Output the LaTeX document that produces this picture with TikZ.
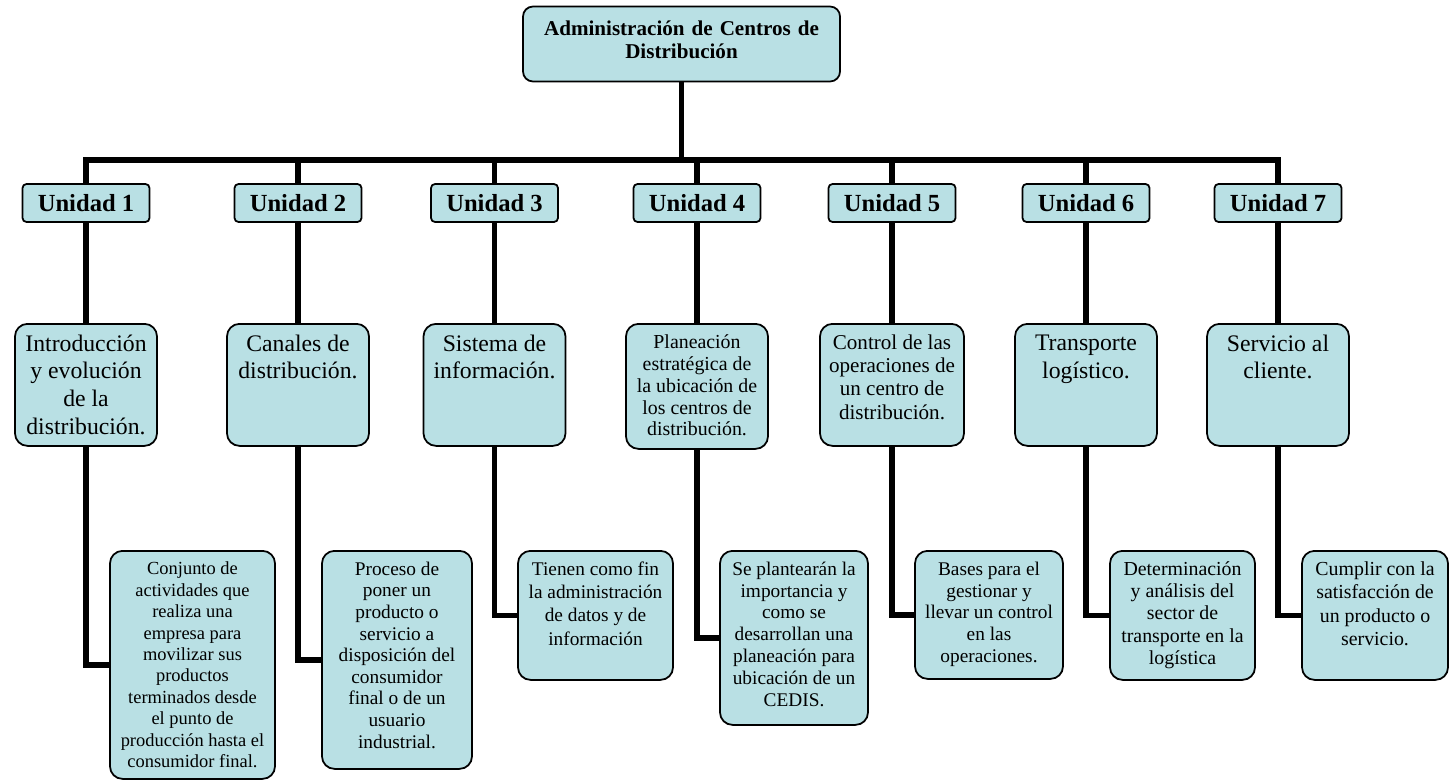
\documentclass[tikz,border=0pt]{standalone}
\usepackage{fontspec}
\setmainfont{Liberation Serif}
\usetikzlibrary{positioning}
\definecolor{boxblue}{RGB}{185,224,228}
% top-aligned text inside a box of given outer size
\newcommand{\boxtext}[3]{\parbox[c][\dimexpr#2-0.44cm\relax][t]{\dimexpr#1-0.16cm\relax}{\centering #3}}

\begin{document}
\begin{tikzpicture}[
        base/.style={draw, fill=boxblue, line width=1pt},
        titlebox/.style={base, rounded corners=0.2cm, align=center, text width=6.1cm, text depth=0.63cm, minimum width=6.34cm, minimum height=1.5cm, font=\bfseries\fontsize{12}{13.2}\selectfont},
        unitbox/.style={base, rounded corners=0.08cm, minimum width=2.54cm, minimum height=0.76cm, inner sep=0pt, font=\bfseries\fontsize{14}{16}\selectfont},
        topic/.style={base, rounded corners=0.25cm, inner xsep=0.08cm, inner ysep=0.22cm, anchor=north, font=\fontsize{13.5}{15.7}\selectfont},
        desc/.style={base, rounded corners=0.25cm, inner xsep=0.08cm, inner ysep=0.22cm, anchor=north, font=\fontsize{11}{13.2}\selectfont},
        conn/.style={line width=3pt}
        ]
        \useasboundingbox (0,0) rectangle (29.08,-15.62);

        % --- Column and row positions ---
        \def\xa{1.72}  \def\xb{5.96}  \def\xc{9.89}  \def\xd{13.94}
        \def\xe{17.84} \def\xf{21.72} \def\xg{25.56}
        \def\yu{-4.06}  % unit row
        \def\yt{-6.46}  % topic row (top edge)
        \def\yd{-11.0}  % description row (top edge)

        % Title
        \node[titlebox] (title) at (13.63,-0.88) {Administración de Centros de\\Distribución};
        \coordinate (bus) at (13.63,-3.2);

        % Units
        \node[unitbox] (u1) at (\xa,\yu) {Unidad 1};
        \node[unitbox] (u2) at (\xb,\yu) {Unidad 2};
        \node[unitbox] (u3) at (\xc,\yu) {Unidad 3};
        \node[unitbox] (u4) at (\xd,\yu) {Unidad 4};
        \node[unitbox] (u5) at (\xe,\yu) {Unidad 5};
        \node[unitbox] (u6) at (\xf,\yu) {Unidad 6};
        \node[unitbox] (u7) at (\xg,\yu) {Unidad 7};

        % Topics
        \node[topic] (t1) at (\xa,\yt) {\boxtext{2.84cm}{2.44cm}{Introducción\\y evolución\\de la\\distribución.}};
        \node[topic] (t2) at (\xb,\yt) {\boxtext{2.84cm}{2.44cm}{Canales de\\distribución.}};
        \node[topic] (t3) at (\xc,\yt) {\boxtext{2.84cm}{2.44cm}{Sistema de\\información.}};
        \node[topic, font=\fontsize{11.3}{12.4}\selectfont] (t4) at (\xd,\yt) {\boxtext{2.84cm}{2.5cm}{Planeación\\estratégica de\\la ubicación de\\los centros de\\distribución.}};
        \node[topic, font=\fontsize{12}{13.2}\selectfont] (t5) at (\xe,\yt) {\boxtext{2.88cm}{2.44cm}{Control de las\\operaciones de\\un centro de\\distribución.}};
        \node[topic] (t6) at (\xf,\yt) {\boxtext{2.84cm}{2.44cm}{Transporte\\logístico.}};
        \node[topic] (t7) at (\xg,\yt) {\boxtext{2.84cm}{2.44cm}{Servicio al\\cliente.}};

        % Descriptions
        \node[desc, font=\fontsize{10.5}{12.2}\selectfont] (d1) at (3.85,\yd) {\boxtext{3.3cm}{4.56cm}{Conjunto de\\actividades que\\realiza una\\empresa para\\movilizar sus\\productos\\terminados desde\\el punto de\\producción hasta el\\consumidor final.}};
        \node[desc, font=\fontsize{11}{12.3}\selectfont] (d2) at (7.94,\yd) {\boxtext{3.0cm}{4.36cm}{Proceso de\\poner un\\producto o\\servicio a\\disposición del\\consumidor\\final o de un\\usuario\\industrial.}};
        \node[desc] (d3) at (11.91,\yd) {\boxtext{3.1cm}{2.58cm}{Tienen como fin\\la administración\\de datos y de\\información}};
        \node[desc, font=\fontsize{11}{12.4}\selectfont] (d4) at (15.88,\yd) {\boxtext{2.96cm}{3.48cm}{Se plantearán la\\importancia y\\como se\\desarrollan una\\planeación para\\ubicación de un\\CEDIS.}};
        \node[desc, font=\fontsize{11}{12.4}\selectfont] (d5) at (19.78,\yd) {\boxtext{2.96cm}{2.56cm}{Bases para el\\gestionar y\\llevar un control\\en las\\operaciones.}};
        \node[desc, font=\fontsize{11.3}{12.6}\selectfont] (d6) at (23.65,\yd) {\boxtext{2.9cm}{2.58cm}{Determinación\\y análisis del\\sector de\\transporte en la\\logística}};
        \node[desc, font=\fontsize{11.3}{13.2}\selectfont] (d7) at (27.5,\yd) {\boxtext{2.92cm}{2.58cm}{Cumplir con la\\satisfacción de\\un producto o\\servicio.}};

        % Connectors
        \draw[conn] (title) -- (bus);
        \draw[conn] (u1) |- (bus) -| (u7);
        \draw[conn] (u2) -- (u2 |- bus);
        \draw[conn] (u3) -- (u3 |- bus);
        \draw[conn] (u4) -- (u4 |- bus);
        \draw[conn] (u5) -- (u5 |- bus);
        \draw[conn] (u6) -- (u6 |- bus);

        \draw[conn] (u1) -- (t1);
        \draw[conn] (u2) -- (t2);
        \draw[conn] (u3) -- (t3);
        \draw[conn] (u4) -- (t4);
        \draw[conn] (u5) -- (t5);
        \draw[conn] (u6) -- (t6);
        \draw[conn] (u7) -- (t7);

        \draw[conn] (t1) |- (d1);
        \draw[conn] (t2) |- (d2);
        \draw[conn] (t3) |- (d3);
        \draw[conn] (t4) |- (d4);
        \draw[conn] (t5) |- (d5);
        \draw[conn] (t6) |- (d6);
        \draw[conn] (t7) |- (d7);

    \end{tikzpicture}
\end{document}
